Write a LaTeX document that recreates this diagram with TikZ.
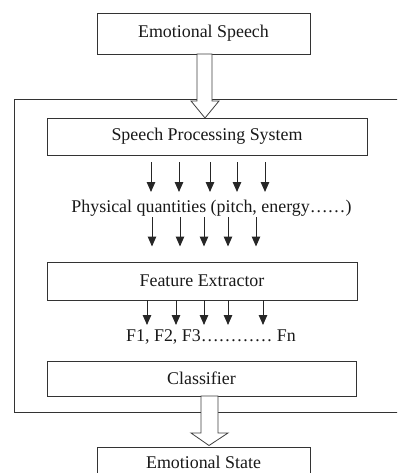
\documentclass[tikz,border=0pt]{standalone}
\usepackage{fontspec}
\setmainfont{Liberation Serif}
\usetikzlibrary{arrows.meta}
\begin{document}
\begin{tikzpicture}[x=1pt,y=-1pt,
  line width=0.9pt,
  every node/.style={font=\fontsize{17.9}{20}\selectfont, text=black!90},
  stage/.style={draw=black!80, fill=white, rectangle, inner sep=0pt},
  flow/.style={draw=black!85, line width=1pt, -{Triangle[length=10pt,width=8.5pt]}},
  bigarrow/.style={draw=black!75, fill=white, line width=0.8pt, line join=miter}]
  \useasboundingbox (0,0) rectangle (397,473);
  \clip (0,0) rectangle (397,473);

  % enclosing system frame (runs off the right edge)
  \draw[black!80] (14,99) rectangle (430,412.7);

  % boxes
  \node[stage, minimum width=213pt, minimum height=41pt] (src) at (203.5,33.5) {Emotional Speech};
  \node[stage, minimum width=320pt, minimum height=37pt] (sps) at (207,136.5) {Speech Processing System};
  \node[stage, minimum width=310pt, minimum height=38pt] (fe)  at (202,281) {Feature Extractor};
  \node[stage, minimum width=309pt, minimum height=35pt] (cls) at (201.5,378.5) {Classifier};
  \node[stage, minimum width=213pt, minimum height=30pt] (out) at (203.5,462) {Emotional State};

  % intermediate labels
  \node (phys) at (211.5,208) {Physical quantities (pitch, energy……)};
  \node (feat) at (211,337) {F1, F2, F3………… Fn};

  % hollow block arrows
  \draw[bigarrow] (197,54) -- (197,101) -- (191,101) -- (205,118)
     -- (219,101) -- (212,101) -- (212,54) -- cycle;
  \draw[bigarrow] (201,396) -- (201,433) -- (191,433) -- (209,445.5)
     -- (228,433) -- (218,433) -- (218,396) -- cycle;

  % signal arrows
  \foreach \x in {151,179,210,237,265}
    \draw[flow] (\x,162) -- (\x,192);
  \foreach \x in {152,180,204,228,256}
    \draw[flow] (\x,217) -- (\x,246.5);
  \foreach \x in {147,176,204,228,263}
    \draw[flow] (\x,300) -- (\x,325);
\end{tikzpicture}
\end{document}
